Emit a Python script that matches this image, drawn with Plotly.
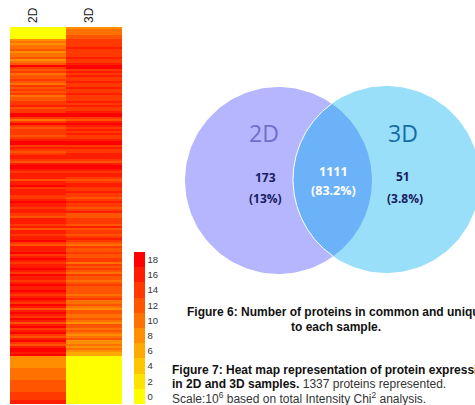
import numpy as np
import plotly.graph_objects as go

W, H = 475, 405
samples = ["2D", "3D"]
values_2d = [0, 0, 0, 0, 0, 0,
    8, 9, 8, 10, 9, 12, 8, 10, 9, 11, 8, 10, 12,
    17, 14, 11, 13,
    10, 12, 11, 13, 12, 10, 13, 11, 14, 12, 13, 10, 12,
    12, 14, 13, 15, 12, 14, 13, 17, 17, 14, 9, 14, 17, 14, 12,
    14, 13, 14, 12, 13, 15, 17, 17, 13, 15, 14, 12, 14, 15, 16, 13, 11, 16, 17, 17,
    16, 14, 15, 16, 15, 12, 15, 16, 17, 14, 15, 16, 16, 14, 13, 15, 17, 16, 15, 13,
    15, 16, 14, 12, 15, 16, 15, 14, 16, 12, 15, 16, 14, 15, 16, 17, 14, 12, 16, 15,
    16, 17, 14, 15, 17, 16, 13, 16, 15, 17, 16, 14, 17, 16, 15, 13, 16, 17, 16, 15,
    17, 16, 13, 16, 17, 15, 14, 17, 16, 12, 15, 17, 16, 14, 17, 15, 12, 16, 17, 14,
    16, 17, 14, 12, 16, 17, 13, 11, 15, 17, 17, 16, 17,
    7, 7, 7, 8, 8, 8, 9, 9, 9, 10, 10, 10, 11, 11, 11, 12, 12, 12, 13, 13, 13, 14, 15, 15]
values_3d = [8, 9, 9, 10, 11, 12,
    14, 14, 13, 14, 15, 14, 13, 14, 14, 15, 13, 14, 15,
    17, 17, 14, 15,
    14, 15, 13, 14, 15, 14, 13, 15, 14, 14, 15, 13, 14,
    14, 15, 14, 15, 13, 14, 15, 17, 17, 14, 12, 15, 17, 15, 14,
    15, 14, 15, 13, 14, 15, 17, 17, 14, 15, 14, 13, 15, 15, 16, 14, 12, 15, 17, 17,
    15, 14, 15, 15, 14, 12, 14, 15, 16, 13, 14, 15, 14, 13, 12, 14, 15, 14, 13, 12,
    14, 15, 12, 11, 14, 14, 13, 12, 15, 11, 13, 14, 12, 13, 15, 14, 11, 10, 13, 12,
    12, 14, 11, 12, 14, 13, 10, 13, 11, 14, 12, 10, 13, 12, 11, 9, 12, 14, 12, 11,
    12, 11, 9, 12, 13, 10, 9, 12, 10, 8, 11, 12, 10, 9, 12, 10, 8, 11, 12, 9,
    11, 10, 8, 9, 11, 8, 7, 10, 8, 9, 7, 5, 5,
    0, 0, 0, 0, 0, 0, 0, 0, 0, 0, 0, 0, 0, 0, 0, 0, 0, 0, 0, 0, 0, 0, 0, 0]
bin_colors = ["#FFFF00", "#FFE300", "#FFC600", "#FFAA00", "#FF8E00",
              "#FF7100", "#FF5500", "#FF3900", "#FF1C00", "#FF0000"]
colorbar_ticks = [0, 2, 4, 6, 8, 10, 12, 14, 16, 18]

venn_left = (278.5, 180.5, 93.5)
venn_right = (386.5, 179.5, 93.5)

rows = list(range(len(values_2d)))
z = [[a, b] for a, b in zip(values_2d, values_3d)]
scale = []
for i, c in enumerate(bin_colors):
    scale += [[i / 10, c], [(i + 1) / 10, c]]

fig = go.Figure()
fig.add_trace(go.Heatmap(
    z=z, x=samples, y=rows, zmin=-1, zmax=19, colorscale=scale, xgap=0, ygap=0,
    hoverinfo="skip",
    colorbar=dict(
        x=134 / W, xanchor="left", y=1 / H, yanchor="bottom",
        thickness=11, thicknessmode="pixels", len=152, lenmode="pixels",
        xpad=0, ypad=0, outlinewidth=0, borderwidth=0, ticks="", ticklen=0,
        tickvals=colorbar_ticks, tickfont=dict(family="Liberation Sans Narrow, Liberation Sans", size=9.5, color="#333333"),
    ),
))


def arc(c, t0, t1):
    t = np.linspace(t0, t1, 180)
    return c[0] + c[2] * np.cos(t), c[1] + c[2] * np.sin(t)


for c, col in ((venn_left, "#B6B6FF"), (venn_right, "#9ADFFA")):
    x, y = arc(c, 0, 2 * np.pi)
    fig.add_trace(go.Scatter(x=x, y=y, xaxis="x2", yaxis="y2", mode="lines", fill="toself",
                             fillcolor=col, line=dict(width=0, color=col), hoverinfo="skip", showlegend=False))

# lens between the two circles, white edge on its left arc only
dx, dy = venn_right[0] - venn_left[0], venn_right[1] - venn_left[1]
d = np.hypot(dx, dy)
half = np.arccos(d / (2 * venn_left[2]))
base = np.arctan2(dy, dx)
xa, ya = arc(venn_left, base - half, base + half)
xb, yb = arc(venn_right, base + np.pi - half, base + np.pi + half)
fig.add_trace(go.Scatter(x=np.r_[xa, xb], y=np.r_[ya, yb], xaxis="x2", yaxis="y2", mode="lines", fill="toself",
                         fillcolor="#6CB2F8", line=dict(width=0, color="#6CB2F8"), hoverinfo="skip", showlegend=False))
fig.add_trace(go.Scatter(x=xb, y=yb, xaxis="x2", yaxis="y2", mode="lines",
                         line=dict(width=1, color="#FFFFFF"), hoverinfo="skip", showlegend=False))

venn_font = "Open Sans"
notes = [
    (264, 133, "2D", 23, "#6F6FC9"),
    (403, 133, "3D", 23, "#156DA6"),
    (265, 177, "<b>173</b>", 12, "#16215E"),
    (265, 198, "<b>(13%)</b>", 12, "#16215E"),
    (333, 171, "<b>1111</b>", 12.5, "#FFFFFF"),
    (333, 190, "<b>(83.2%)</b>", 12.5, "#FFFFFF"),
    (403, 176, "<b>51</b>", 12, "#16215E"),
    (405, 198, "<b>(3.8%)</b>", 12, "#16215E"),
]
anns = [dict(x=x, y=y, xref="x2", yref="y2", text=t, showarrow=False, xanchor="center", yanchor="middle",
             font=dict(family=venn_font, size=s, color=c)) for x, y, t, s, c in notes]

cap = "Liberation Sans"
captions = [
    (185, 312, "left", "<b>Figure 6: Number of proteins in common and unique</b>", "#111111"),
    (336, 327, "center", "<b>to each sample.</b>", "#111111"),
    (170, 370, "left", "<b>Figure 7: Heat map representation of protein expression</b>", "#111111"),
    (170, 384, "left", "<b>in 2D and 3D samples.</b> <span style='color:#333333'>1337 proteins represented.</span>", "#111111"),
    (170, 398, "left", "Scale:10<sup>6</sup> based on total Intensity Chi<sup>2</sup> analysis.", "#333333"),
]
anns += [dict(x=x, y=y, xref="x2", yref="y2", text=t, showarrow=False, xanchor=a, yanchor="middle",
              font=dict(family=cap, size=12, color=c)) for x, y, a, t, c in captions]

fig.update_layout(
    width=W, height=H, autosize=False, margin=dict(l=0, r=0, t=0, b=0),
    paper_bgcolor="white", plot_bgcolor="rgba(0,0,0,0)", showlegend=False, annotations=anns,
    xaxis=dict(domain=[10 / W, 122 / W], side="top", anchor="y", tickangle=-90, ticks="", showgrid=False,
               zeroline=False, showline=False, ticklabelshift=-5, ticklabelstandoff=3,
               tickfont=dict(family="Liberation Sans", size=12, color="#222222")),
    yaxis=dict(domain=[1 / H, 378 / H], autorange="reversed", visible=False),
    xaxis2=dict(domain=[0, 1], range=[0, W], visible=False, anchor="y2"),
    yaxis2=dict(domain=[0, 1], range=[H, 0], visible=False, anchor="x2"),
)
fig.write_html("out.html", config=dict(displayModeBar=False),
               post_script="document.body.style.margin='0';document.documentElement.style.overflow='hidden';")
